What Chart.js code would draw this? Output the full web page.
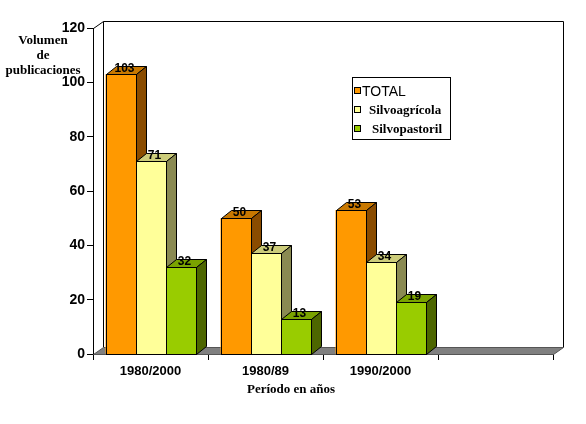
<!DOCTYPE html>
<html>
<head>
<meta charset="utf-8">
<script src="https://cdn.jsdelivr.net/npm/chart.js@4.4.0/dist/chart.umd.min.js"></script>
<style>
  html, body { margin: 0; padding: 0; background: #fff; }
  canvas { display: block; }
</style>
</head>
<body>
<canvas id="chart" width="586" height="424"></canvas>
<script>
// data
const categories = ['1980/2000', '1980/89', '1990/2000', ''];
const totalValues = [103, 50, 53, null];
const agricolaValues = [71, 37, 34, null];
const pastorilValues = [32, 13, 19, null];
const yMin = 0;
const yMax = 120;
const yStep = 20;
const seriesNames = ['TOTAL', 'Silvoagrícola', 'Silvopastoril'];

// face colours: front, top, side
const faces = [
  ['#FF9900', '#C87800', '#8A4C00'],
  ['#FFFF99', '#CCCC7A', '#8A8A52'],
  ['#99CC00', '#7AA300', '#4D6600']
];
const DX = 10, DY = 8;

const threeD = {
  id: 'threeD',
  beforeDatasetsDraw(chart) {
    const ctx = chart.ctx;
    const a = chart.chartArea;
    const wall = 7;
    ctx.save();
    ctx.strokeStyle = '#000';
    ctx.lineWidth = 1;
    // back wall outline
    ctx.beginPath();
    ctx.moveTo(a.left + 0.5, a.top + 0.5);
    ctx.lineTo(a.left + DX + 0.5, a.top - wall + 0.5);
    ctx.lineTo(a.right + DX + 0.5, a.top - wall + 0.5);
    ctx.lineTo(a.right + DX + 0.5, a.bottom - wall + 0.5);
    ctx.moveTo(a.left + DX + 0.5, a.top - wall + 0.5);
    ctx.lineTo(a.left + DX + 0.5, a.bottom - wall + 0.5);
    ctx.stroke();
    // floor
    ctx.beginPath();
    ctx.moveTo(a.left + 0.5, a.bottom + 0.5);
    ctx.lineTo(a.right + 0.5, a.bottom + 0.5);
    ctx.lineTo(a.right + DX + 0.5, a.bottom - wall + 0.5);
    ctx.lineTo(a.left + DX + 0.5, a.bottom - wall + 0.5);
    ctx.closePath();
    ctx.fillStyle = '#808080';
    ctx.fill();
    ctx.strokeStyle = '#555';
    ctx.stroke();
    ctx.restore();
  },
  afterDatasetsDraw(chart) {
    const ctx = chart.ctx;
    ctx.save();
    ctx.strokeStyle = '#000';
    ctx.lineWidth = 1;
    ctx.lineJoin = 'miter';
    for (let d = 0; d < chart.data.datasets.length; d++) {
      const meta = chart.getDatasetMeta(d);
      meta.data.forEach((bar, i) => {
        if (chart.data.datasets[d].data[i] == null) return;
        const l = Math.round(bar.x - bar.width / 2) + 0.5;
        const r = Math.round(bar.x + bar.width / 2) + 0.5;
        const t = Math.round(bar.y) + 0.5;
        const b = Math.round(bar.base) + 0.5;
        // top face
        ctx.beginPath();
        ctx.moveTo(l, t);
        ctx.lineTo(l + DX, t - DY);
        ctx.lineTo(r + DX, t - DY);
        ctx.lineTo(r, t);
        ctx.closePath();
        ctx.fillStyle = faces[d][1];
        ctx.fill();
        ctx.stroke();
        // side face
        ctx.beginPath();
        ctx.moveTo(r, t);
        ctx.lineTo(r + DX, t - DY);
        ctx.lineTo(r + DX, b - DY);
        ctx.lineTo(r, b);
        ctx.closePath();
        ctx.fillStyle = faces[d][2];
        ctx.fill();
        ctx.stroke();
        // front face
        ctx.fillStyle = faces[d][0];
        ctx.fillRect(l, t, r - l, b - t);
        ctx.strokeRect(l, t, r - l, b - t);
      });
    }
    // value labels
    ctx.fillStyle = '#000';
    ctx.font = 'bold 12px "Liberation Sans", Arial, sans-serif';
    ctx.textAlign = 'center';
    ctx.textBaseline = 'alphabetic';
    for (let d = 0; d < chart.data.datasets.length; d++) {
      const meta = chart.getDatasetMeta(d);
      meta.data.forEach((bar, i) => {
        const v = chart.data.datasets[d].data[i];
        if (v == null) return;
        ctx.fillText(String(v), bar.x + 4, bar.y - 2);
      });
    }
    ctx.restore();
  },
  afterDraw(chart) {
    const ctx = chart.ctx;
    ctx.save();
    ctx.fillStyle = '#000';
    ctx.textAlign = 'center';
    ctx.textBaseline = 'middle';
    // y axis title
    ctx.font = 'bold 13px "Liberation Serif", "Times New Roman", serif';
    ctx.fillText('Volumen', 43, 41);
    ctx.fillText('de', 43, 56);
    ctx.fillText('publicaciones', 43, 71);
    // x axis title
    ctx.fillText('Período en años', 291, 390);

    // legend box
    ctx.strokeStyle = '#000';
    ctx.lineWidth = 1;
    ctx.fillStyle = '#fff';
    ctx.fillRect(352.5, 77.5, 98, 62);
    ctx.strokeRect(352.5, 77.5, 98, 62);
    const rows = [
      { y: 91, tx: 362, font: '14px "Liberation Sans", Arial, sans-serif' },
      { y: 110, tx: 369, font: 'bold 13px "Liberation Serif", "Times New Roman", serif' },
      { y: 129, tx: 372, font: 'bold 13px "Liberation Serif", "Times New Roman", serif' }
    ];
    rows.forEach((row, k) => {
      ctx.fillStyle = faces[k][0];
      ctx.fillRect(354.5, row.y - 3.5, 6, 6);
      ctx.strokeRect(354.5, row.y - 3.5, 6, 6);
      ctx.fillStyle = '#000';
      ctx.font = row.font;
      ctx.textAlign = 'left';
      ctx.fillText(seriesNames[k], row.tx, row.y + 1);
    });
    ctx.restore();
  }
};

new Chart(document.getElementById('chart'), {
  type: 'bar',
  data: {
    labels: categories,
    datasets: [
      { label: seriesNames[0], data: totalValues, backgroundColor: faces[0][0] },
      { label: seriesNames[1], data: agricolaValues, backgroundColor: faces[1][0] },
      { label: seriesNames[2], data: pastorilValues, backgroundColor: faces[2][0] }
    ]
  },
  options: {
    responsive: false,
    animation: false,
    devicePixelRatio: 1,
    layout: { padding: { left: 0, right: 33, top: 28, bottom: 0 } },
    datasets: {
      bar: { categoryPercentage: 90 / 115, barPercentage: 1, borderWidth: 0 }
    },
    plugins: {
      legend: { display: false },
      tooltip: { enabled: false },
      title: { display: false }
    },
    scales: {
      x: {
        afterFit: s => { s.height = 70; },
        grid: { offset: true, drawOnChartArea: false, tickLength: 6, color: '#000' },
        border: { display: true, color: '#000' },
        ticks: {
          color: '#000',
          padding: 4,
          maxRotation: 0,
          font: { family: '"Liberation Sans", Arial, sans-serif', size: 13, weight: 'bold' }
        }
      },
      y: {
        min: yMin,
        max: yMax,
        afterFit: s => { s.width = 93; },
        grid: { drawOnChartArea: false, tickLength: 6, color: '#000' },
        border: { display: true, color: '#000' },
        ticks: {
          stepSize: yStep,
          color: '#000',
          padding: 2,
          font: { family: '"Liberation Sans", Arial, sans-serif', size: 14, weight: 'bold' }
        }
      }
    }
  },
  plugins: [threeD]
});
</script>
</body>
</html>
